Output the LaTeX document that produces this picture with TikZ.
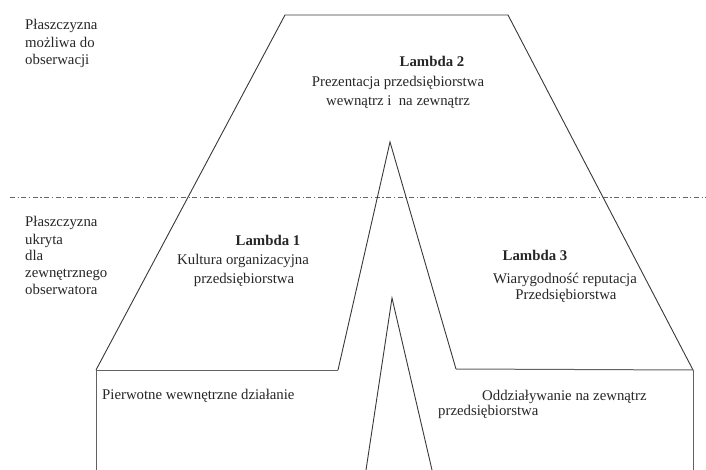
\documentclass[tikz,border=0pt]{standalone}
\usepackage{fontspec}
\setmainfont{Liberation Serif}
\begin{document}
\begin{tikzpicture}[x=1pt,y=-1pt,
  outline/.style={draw=black!78,line width=0.9pt,line join=miter},
  floorline/.style={draw=black!62,line width=1pt},
  level/.style={draw=black!60,line width=0.9pt,dash pattern=on 5pt off 2.6pt on 1.2pt off 2.6pt},
  txt/.style={inner sep=0pt,font=\fontsize{14.8}{17}\selectfont,text=black!85},
  head/.style={txt,font=\fontsize{14.8}{17}\selectfont\bfseries},
  lbl/.style={txt,anchor=base west},
  mid/.style={txt,anchor=base}]
\useasboundingbox (0,0) rectangle (706,470);

% corner points of the outline
\coordinate (tl) at (285,15);
\coordinate (tr) at (508,15);
\coordinate (bl) at (96,370);
\coordinate (br) at (693,370);
\coordinate (ll) at (96,470);
\coordinate (lr) at (693,470);
\coordinate (il) at (338,370);
\coordinate (apex) at (390,142);
\coordinate (ir) at (456,369);
\coordinate (sl) at (366,470);
\coordinate (stop) at (392,298);
\coordinate (sr) at (432,470);
\coordinate (dl) at (10,197.5);
\coordinate (dr) at (706,197.5);

% boundary between the visible and the hidden plane
\draw[level] (dl) -- (dr);

% outer contour
\draw[outline] (bl) -- (tl) -- (tr) -- (br);
% inner spike
\draw[outline] (il) -- (apex) -- (ir);
% base lines and walls
\draw[floorline] (bl) -- (il);
\draw[floorline] (ir) -- (br);
\draw[floorline] (bl) -- (ll);
\draw[floorline] (br) -- (lr);
% lower spike
\draw[outline] (sl) -- (stop) -- (sr);

% plane labels
\node[lbl] (v1) at (25,30) {Płaszczyzna};
\node[lbl] (v2) at (25,47.5) {możliwa do};
\node[lbl] (v3) at (25,65) {obserwacji};

\node[lbl] (h1) at (25,227) {Płaszczyzna};
\node[lbl] (h2) at (25,244) {ukryta};
\node[lbl] (h3) at (25,261) {dla};
\node[lbl] (h4) at (25,277.5) {zewnętrznego};
\node[lbl] (h5) at (25,294) {obserwatora};

% Lambda 2
\node[head,anchor=base] (l2) at (432,67) {Lambda 2};
\node[mid] (l2a) at (398,87) {Prezentacja przedsiębiorstwa};
\node[mid] (l2b) at (398,106) {wewnątrz i\ \ na zewnątrz};

% Lambda 1
\node[head,anchor=base] (l1) at (268,245) {Lambda 1};
\node[mid] (l1a) at (243,265) {Kultura organizacyjna};
\node[mid] (l1b) at (244,283) {przedsiębiorstwa};

% Lambda 3
\node[head,anchor=base] (l3) at (535,261) {Lambda 3};
\node[mid] (l3a) at (565,283) {Wiarygodność reputacja};
\node[mid] (l3b) at (566,299) {Przedsiębiorstwa};

% bottom labels
\node[lbl] (pw) at (102,399) {Pierwotne wewnętrzne działanie};
\node[lbl] (oz1) at (482,400) {Oddziaływanie na zewnątrz};
\node[lbl] (oz2) at (438,415) {przedsiębiorstwa};
\end{tikzpicture}
\end{document}
